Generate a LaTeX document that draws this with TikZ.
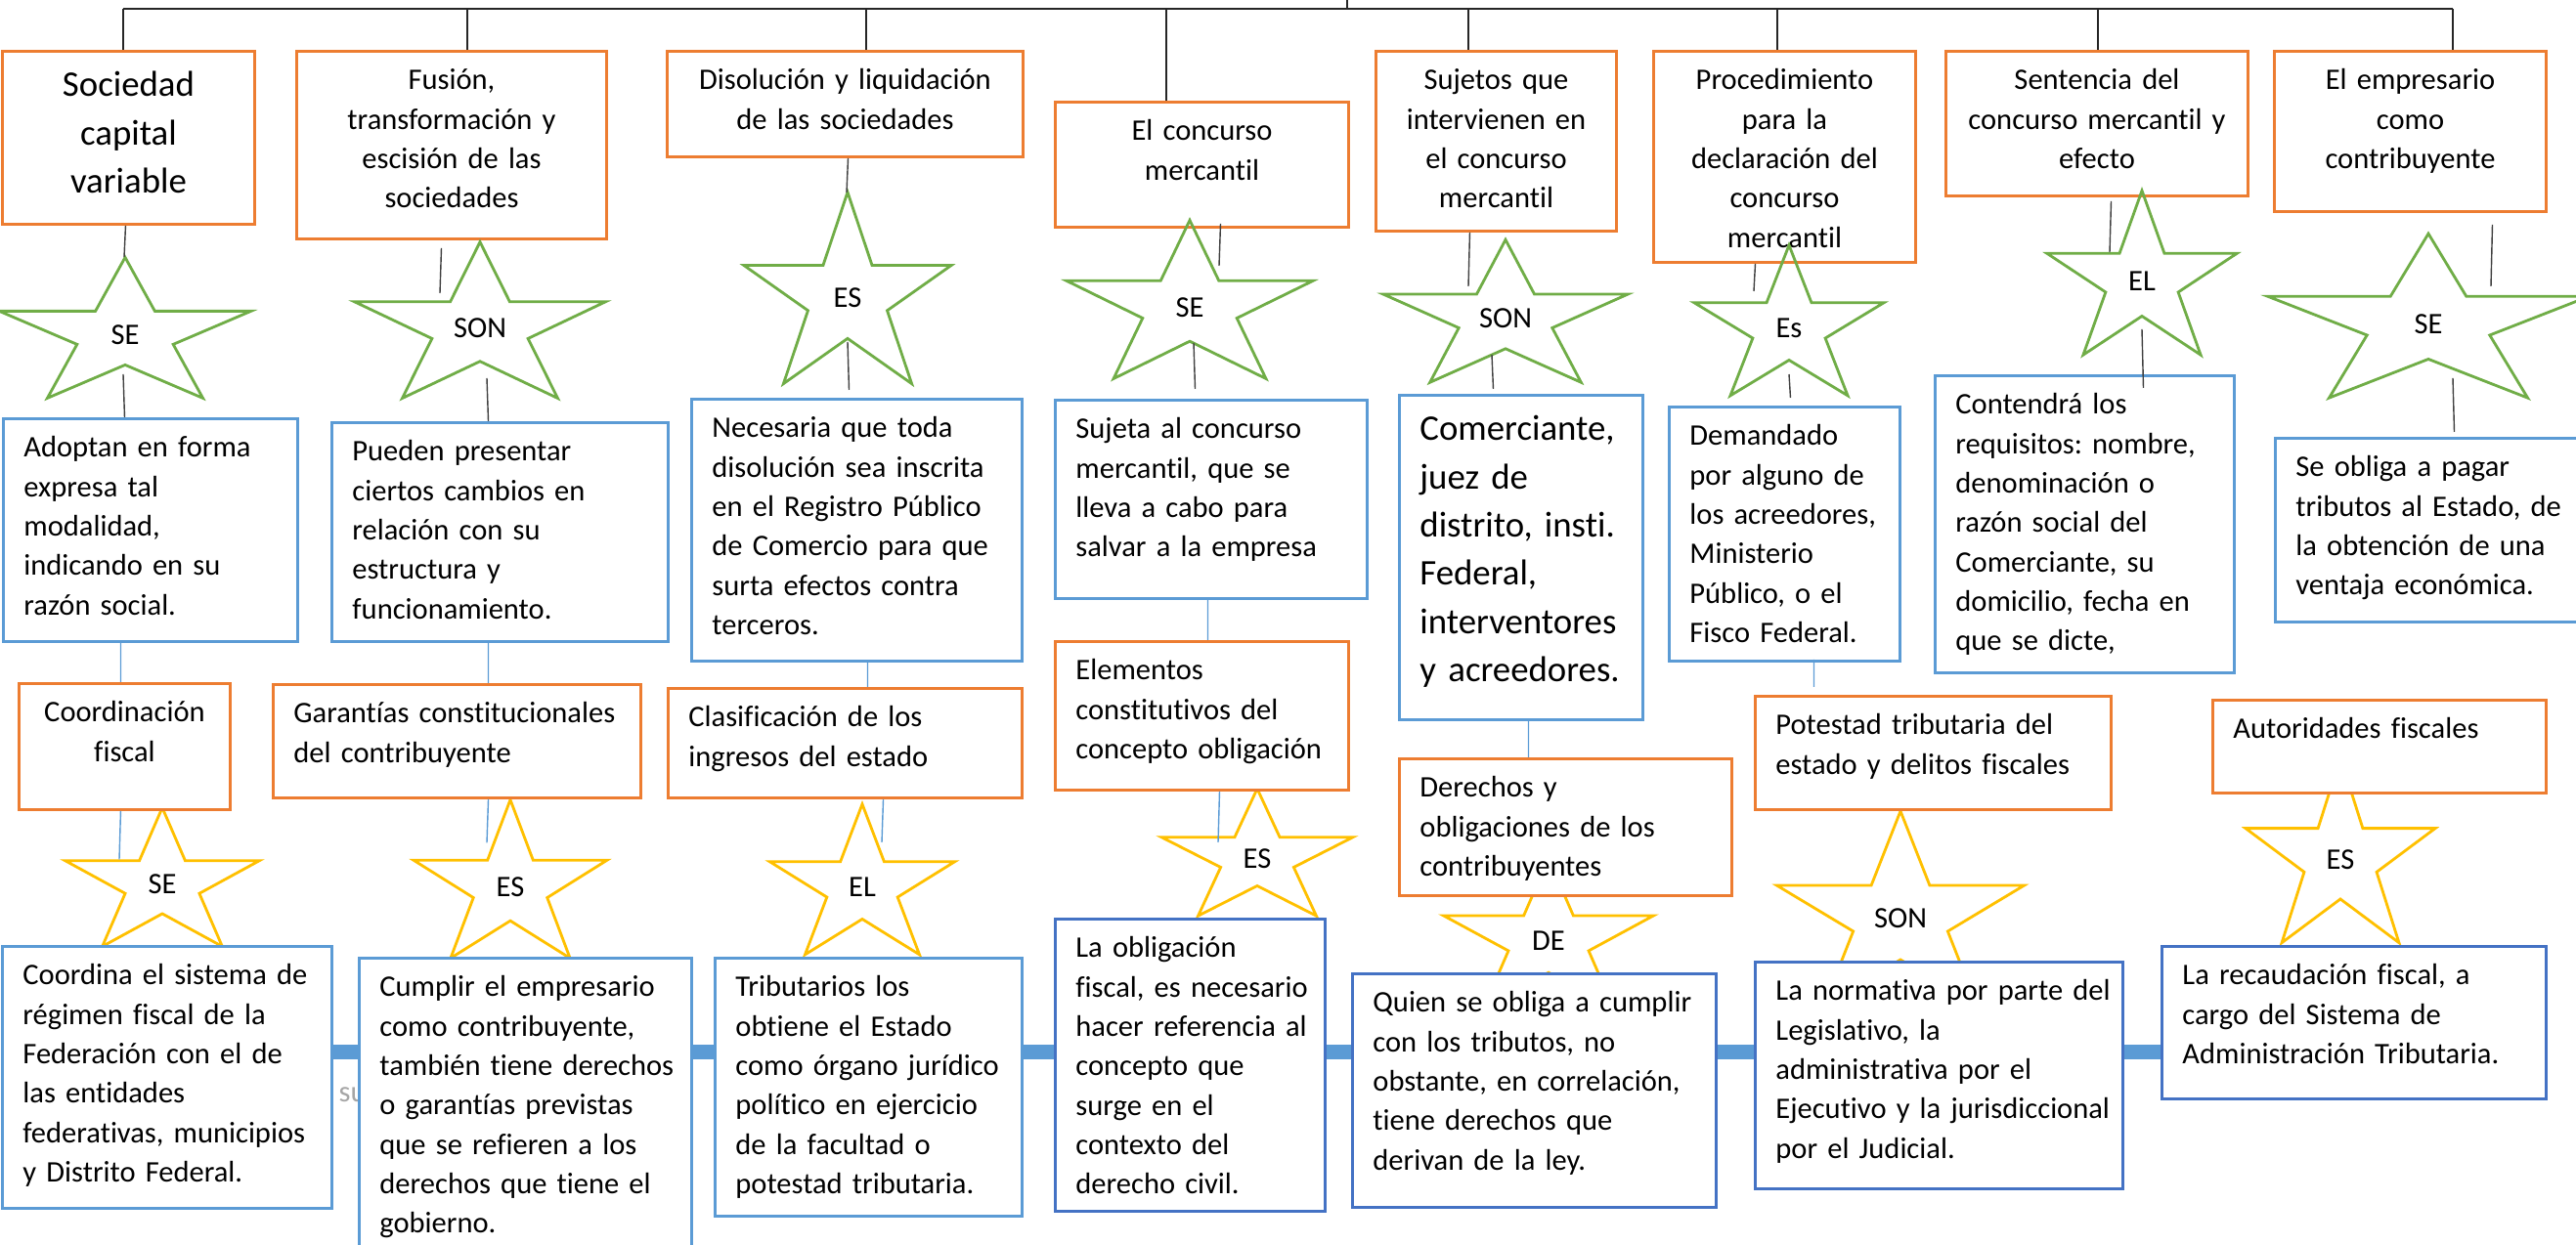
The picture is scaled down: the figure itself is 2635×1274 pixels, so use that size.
\documentclass[tikz,border=0pt]{standalone}
\usepackage{fontspec}
\setmainfont{Carlito}[Ligatures=NoCommon]
\usepackage{tikz}
\usetikzlibrary{calc,backgrounds}
\usepackage{xcolor}
\frenchspacing
\definecolor{cmorange}{RGB}{237,125,49}
\definecolor{cmblue}{RGB}{91,155,213}
\definecolor{cmdarkblue}{RGB}{68,114,196}
\definecolor{cmgreen}{RGB}{112,173,71}
\definecolor{cmgold}{RGB}{255,192,0}
\definecolor{cmgray}{RGB}{64,64,64}
\definecolor{cmlightgray}{RGB}{166,166,166}
\tikzstyle{trunk} = [line width=0.55pt, color=black!85]
\tikzstyle{twig} = [line width=0.4pt, color=cmgray]
\tikzstyle{bluetwig} = [line width=0.4pt, color=cmblue]

\begin{document}
\begin{tikzpicture}[x=0.01cm, y=-0.01cm,
    topic/.style={rectangle, draw=cmorange, line width=0.8pt, fill=white, anchor=north west,
      inner xsep=0.21cm, inner ysep=0.195cm, text height=0.2cm, align=left,
      font=\fontsize{8.68}{11.47}\selectfont},
    note/.style={topic, draw=cmblue},
    darknote/.style={topic, draw=cmdarkblue},
    big/.style={text height=0.27cm, font=\fontsize{10.47}{14.03}\selectfont},
    starlabel/.style={inner sep=0pt, font=\fontsize{8.68}{11.47}\selectfont},
    greenstar/.style={draw=cmgreen, line width=0.8pt},
    goldstar/.style={draw=cmgold, line width=0.8pt},
    bar/.style={cmblue, line width=0.15cm}]

\useasboundingbox (0,0) rectangle (2635,1274);
\clip (0,0) rectangle (2635,1274);

% Main topics
\node[topic, big, align=center, text width=2.16cm, text depth=1.11cm] (sociedad) at (1,51) {Sociedad\\capital\\variable};
\node[topic, align=center, text width=2.75cm, text depth=1.33cm] (fusion) at (302,51) {Fusión,\\transformación y\\escisión de las\\sociedades};
\node[topic, align=center, text width=3.22cm, text depth=0.49cm] (disolucion) at (681,51) {Disolución y liquidación\\de las sociedades};
\node[topic, align=center, text width=2.58cm, text depth=0.69cm] (concurso) at (1078,103) {El concurso\\mercantil};
\node[topic, align=center, text width=2.04cm, text depth=1.25cm] (sujetos) at (1406,51) {Sujetos que\\intervienen en\\el concurso\\mercantil};
\node[topic, align=center, text width=2.26cm, text depth=1.57cm] (procedimiento) at (1690,51) {Procedimiento\\para la\\declaración del\\concurso\\mercantil};
\node[topic, align=center, text width=2.67cm, text depth=0.89cm] (sentencia) at (1989,51) {Sentencia del\\concurso mercantil y\\efecto};
\node[topic, align=center, text width=2.36cm, text depth=1.05cm] (empresario) at (2325,51) {El empresario\\como\\contribuyente};

% Descriptions
\node[note, text width=2.59cm, text depth=1.69cm] (adoptan) at (2,427) {Adoptan en forma\\expresa tal\\modalidad,\\indicando en su\\razón social.};
\node[note, text width=3.02cm, text depth=1.65cm] (pueden) at (338,431) {Pueden presentar\\ciertos cambios en\\relación con su\\estructura y\\funcionamiento.};
\node[note, text width=2.96cm, text depth=2.09cm] (necesaria) at (706,407) {Necesaria que toda\\disolución sea inscrita\\en el Registro Público\\de Comercio para que\\surta efectos contra\\terceros.};
\node[note, text width=2.77cm, text depth=1.44cm] (sujeta) at (1078,408) {Sujeta al concurso\\mercantil, que se\\lleva a cabo para\\salvar a la empresa};
\node[note, big, text width=2.07cm, text depth=2.66cm] (comerciante) at (1430,403) {Comerciante,\\juez de\\distrito, insti.\\Federal,\\\mbox{interventores}\\y acreedores.};
\node[note, text width=1.94cm, text depth=2.01cm] (demandado) at (1706,415) {Demandado\\por alguno de\\\mbox{los acreedores,}\\Ministerio\\Público, o el\\Fisco Federal.};
\node[note, text width=2.64cm, text depth=2.45cm] (contendra) at (1978,383) {Contendrá los\\requisitos: nombre,\\denominación o\\razón social del\\Comerciante, su\\domicilio, fecha en\\que se dicte,};
\node[note, text width=2.78cm, text depth=1.29cm] (obliga) at (2326,447) {Se obliga a pagar\\tributos al Estado, de\\la obtención de una\\ventaja económica.};

% Second topics
\node[topic, align=center, text width=1.74cm, text depth=0.70cm] (coordinacion) at (18,698) {Coordinación\\fiscal};
\node[topic, text width=3.34cm, text depth=0.57cm] (garantias) at (278,699) {\mbox{Garantías constitucionales}\\del contribuyente};
\node[topic, text width=3.20cm, text depth=0.53cm] (clasificacion) at (682,703) {Clasificación de los\\ingresos del estado};
\node[topic, text width=2.58cm, text depth=0.93cm] (elementos) at (1078,655) {Elementos\\constitutivos del\\concepto obligación};
\node[topic, text width=2.98cm, text depth=0.81cm] (derechos) at (1430,775) {Derechos y\\obligaciones de los\\contribuyentes};
\node[topic, text width=3.22cm, text depth=0.57cm] (potestad) at (1794,711) {Potestad tributaria del\\estado y delitos fiscales};
\node[topic, text width=2.99cm, text depth=0.36cm] (autoridades) at (2262,715) {Autoridades fiscales};

% Bottom descriptions
\node[note, text width=2.95cm, text depth=2.09cm] (coordina) at (1,967) {Coordina el sistema de\\régimen fiscal de la\\Federación con el de\\las entidades\\\mbox{federativas, municipios}\\y Distrito Federal.};
\node[note, text width=2.98cm, text depth=2.47cm] (cumplir) at (366,979) {Cumplir el empresario\\como contribuyente,\\\mbox{también tiene derechos}\\o garantías previstas\\que se refieren a los\\derechos que tiene el\\gobierno.};
\node[note, text width=2.72cm, text depth=2.05cm] (tributarios) at (730,979) {Tributarios los\\obtiene el Estado\\\mbox{como órgano jurídico}\\político en ejercicio\\de la facultad o\\potestad tributaria.};
\node[darknote, text width=2.34cm, text depth=2.40cm] (obligacion) at (1078,939) {La obligación\\\mbox{fiscal, es necesario}\\\mbox{hacer referencia al}\\concepto que\\surge en el\\contexto del\\derecho civil.};
\node[darknote, text width=3.30cm, text depth=1.80cm] (quien) at (1382,995) {Quien se obliga a cumplir\\con los tributos, no\\obstante, en correlación,\\tiene derechos que\\derivan de la ley.};
\node[darknote, text width=3.34cm, text depth=1.73cm] (normativa) at (1794,983) {\mbox{La normativa por parte del}\\Legislativo, la\\administrativa por el\\\mbox{Ejecutivo y la jurisdiccional}\\por el Judicial.};
\node[darknote, text width=3.51cm, text depth=0.97cm] (recaudacion) at (2210,967) {La recaudación fiscal, a\\cargo del Sistema de\\Administración Tributaria.};

% Star labels
\node[starlabel] (se1) at (128,343) {SE};
\node[starlabel] (son1) at (491,336) {SON};
\node[starlabel] (es1) at (867,305) {ES};
\node[starlabel] (se2) at (1217,315) {SE};
\node[starlabel] (son2) at (1540,326) {SON};
\node[starlabel] (es2) at (1830,336) {Es};
\node[starlabel] (el1) at (2191,288) {EL};
\node[starlabel] (se3) at (2484,332) {SE};
\node[starlabel] (se4) at (166,905) {SE};
\node[starlabel] (es3) at (522,908) {ES};
\node[starlabel] (el2) at (882,908) {EL};
\node[starlabel] (es4) at (1286,879) {ES};
\node[starlabel] (de1) at (1584,963) {DE};
\node[starlabel] (son3) at (1944,940) {SON};
\node[starlabel] (es5) at (2394,880) {ES};

% Green stars
\foreach \nm/\rad/\sx in {se1/79.6/1.70, son1/88.4/1.53, es1/108.3/1.03, se2/89.6/1.48,
    son2/80.7/1.63, es2/85.1/1.20, el1/92.9/1.10, se3/92.9/1.86}
  \draw[greenstar, shift={(\nm)}, xscale=\sx] (270:\rad)
    \foreach \k in {1,...,4} {-- ({234+72*\k}:{0.382*\rad}) -- ({270+72*\k}:\rad)}
    -- (234:{0.382*\rad}) -- cycle;

% Gold stars, bar and stray text behind the boxes
\begin{scope}[on background layer]
  \foreach \nm/\rad/\sx in {se4/78.5/1.33, es3/89.6/1.16, el2/85.1/1.17, es4/71.9/1.43,
      de1/84.3/1.34, son3/110/1.21, es5/104.7/0.974}
    \draw[goldstar, shift={(\nm)}, xscale=\sx] (270:\rad)
      \foreach \k in {1,...,4} {-- ({234+72*\k}:{0.382*\rad}) -- ({270+72*\k}:\rad)}
      -- (234:{0.382*\rad}) -- cycle;
  \coordinate (barline) at (0,1077);
  \draw[bar] (coordina.east |- barline) -- (recaudacion.west |- barline);
  \node[anchor=base west, inner sep=0pt, text=cmlightgray, font=\fontsize{8.68}{11.47}\selectfont] (su) at (346,1128) {su};
\end{scope}

% Top bus
\coordinate (root) at (1378,0);
\coordinate (top-sociedad) at (126,9);
\coordinate (top-fusion) at (478,9);
\coordinate (top-disolucion) at (886,9);
\coordinate (top-concurso) at (1193,9);
\coordinate (top-sujetos) at (1502,9);
\coordinate (top-procedimiento) at (1818,9);
\coordinate (top-sentencia) at (2146,9);
\coordinate (top-empresario) at (2509,9);
\draw[trunk] (top-sociedad) -- (top-empresario);
\draw[trunk] (root) -- (root |- top-sociedad);
\draw[trunk] (top-sociedad) -- (top-sociedad |- sociedad.north);
\draw[trunk] (top-fusion) -- (top-fusion |- fusion.north);
\draw[trunk] (top-disolucion) -- (top-disolucion |- disolucion.north);
\draw[trunk] (top-concurso) -- (top-concurso |- concurso.north);
\draw[trunk] (top-sujetos) -- (top-sujetos |- sujetos.north);
\draw[trunk] (top-procedimiento) -- (top-procedimiento |- procedimiento.north);
\draw[trunk] (top-sentencia) -- (top-sentencia |- sentencia.north);
\draw[trunk] (top-empresario) -- (top-empresario |- empresario.north);

% Topics to stars
\draw[twig] ($(sociedad.south)+(-3,0)$) -- ($(se1)+(-1,-80)$);
\draw[twig] ($(fusion.south)+(-10.5,8)$) -- ($(son1)+(-41,-36)$);
\draw[twig] ($(disolucion.south)+(3,0)$) -- ($(es1)+(-1,-108)$);
\draw[twig] ($(concurso.south)+(19,-5)$) -- ($(se2)+(30,-43)$);
\draw[twig] ($(sujetos.south)+(-27,0)$) -- ($(son2)+(-38,-33)$);
\draw[twig] ($(procedimiento.south)+(-30,0)$) -- ($(es2)+(-36,-38)$);
\draw[twig] ($(sentencia.south)+(14.5,4)$) -- ($(el1)+(-33,-30)$);
\draw[twig] ($(empresario.south)+(84,12)$) -- ($(se3)+(64,-39)$);

% Stars to descriptions
\draw[twig] ($(se1)+(-2,40)$) -- ($(adoptan.north)+(-26.5,0)$);
\draw[twig] ($(son1)+(7,51)$) -- ($(pueden.north)+(-12,0)$);
\draw[twig] ($(es1)+(0,45)$) -- ($(necesaria.north)+(-8,-8)$);
\draw[twig] ($(se2)+(4,36)$) -- ($(sujeta.north)+(-16.5,-10)$);
\draw[twig] ($(son2)+(-14,37)$) -- ($(comerciante.north)+(-28.5,-5)$);
\draw[twig] ($(es2)+(0,47)$) -- ($(demandado.north)+(6,-8)$);
\draw[twig] ($(el1)+(0,49)$) -- ($(contendra.north)+(60,14)$);
\draw[twig] ($(se3)+(25,55)$) -- ($(obliga.north)+(23,-5)$);

% Descriptions to second topics
\draw[bluetwig] ($(adoptan.south)+(-30.5,0)$) -- ($(coordinacion.north)+(-4,0)$);
\draw[bluetwig] ($(pueden.south)+(-12,0)$) -- ($(garantias.north)+(32,0)$);
\draw[bluetwig] ($(necesaria.south)+(11,0)$) -- ($(clasificacion.north)+(23,0)$);
\draw[bluetwig] ($(sujeta.south)+(-3.5,0)$) -- ($(elementos.north)+(6,0)$);
\draw[bluetwig] ($(comerciante.south)+(7.5,0)$) -- ($(derechos.north)+(-38,0)$);
\draw[bluetwig] ($(demandado.south)+(30,-3)$) -- ($(potestad.north)+(-122,-8)$);

% Second topics to stars
\draw[bluetwig] ($(coordinacion.south)+(-4,0)$) -- ($(se4)+(-44,-25.5)$);
\draw[bluetwig] ($(garantias.south)+(32,0)$) -- ($(es3)+(-24,-45.6)$);
\draw[bluetwig] ($(clasificacion.south)+(39,0)$) -- ($(el2)+(20,-46)$);
\draw[bluetwig] ($(elementos.south)+(18,0)$) -- ($(es4)+(-40,-17)$);
\end{tikzpicture}
\end{document}
